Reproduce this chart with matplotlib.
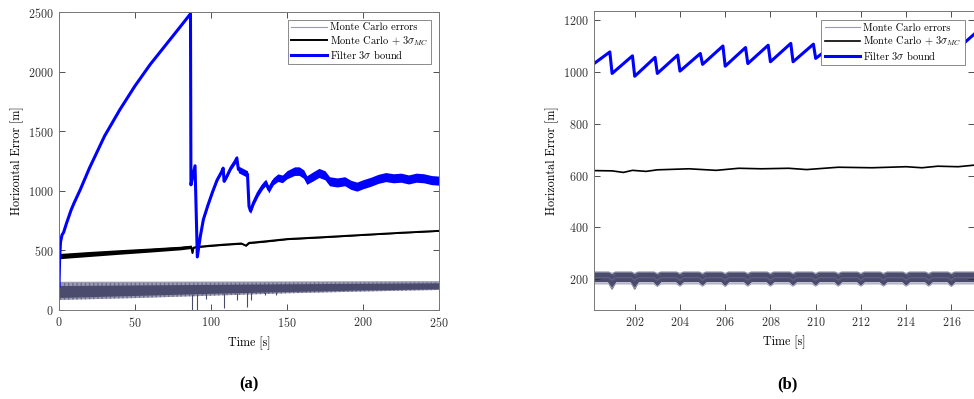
import numpy as np
import matplotlib
matplotlib.use("Agg")
import matplotlib.pyplot as plt

plt.rcParams['font.family'] = 'cmr10'
plt.rcParams['mathtext.fontset'] = 'cm'
plt.rcParams['axes.formatter.use_mathtext'] = True

# ---------------- panel (a) data ----------------
blue_t = [0, 0.4, 1, 2, 3, 5, 8, 10, 14, 20, 30, 40, 50, 60, 70, 80, 86.5, 86.8, 87.5, 89.5,
          91, 93, 95, 98, 101, 104, 107, 108, 108.6, 110, 113, 116, 117, 118, 121, 124, 125, 126,
          128, 131, 134, 136, 138, 141, 144, 147, 150, 155, 158, 161, 163, 167, 171, 175, 178,
          183, 188, 192, 196, 200, 205, 210, 215, 220, 225, 230, 235, 240, 245, 250]
blue_v = [200, 430, 570, 630, 650, 730, 840, 900, 1010, 1190, 1460, 1680, 1880, 2060, 2220, 2380, 2485, 1050, 1090, 1210,
          445, 620, 760, 880, 990, 1090, 1160, 1190, 1080, 1110, 1190, 1250, 1275, 1180, 1160, 1140, 870, 830,
          900, 980, 1040, 1070, 1010, 1080, 1110, 1100, 1135, 1165, 1165, 1140, 1090, 1120, 1150, 1130, 1080,
          1070, 1080, 1050, 1035, 1055, 1075, 1100, 1115, 1105, 1110, 1095, 1110, 1105, 1090, 1085]
blue_hw = [0, 0, 0, 0, 0, 0, 0, 0, 0, 0, 0, 0, 0, 0, 0, 0, 0, 0, 0, 0,
           0, 8, 8, 10, 10, 12, 12, 12, 12, 14, 16, 22, 22, 28, 28, 28, 22, 22,
           22, 25, 25, 28, 28, 30, 32, 32, 34, 36, 36, 36, 36, 38, 38, 38, 38,
           38, 38, 38, 38, 38, 38, 38, 38, 38, 38, 38, 38, 38, 38, 38]

blk_t = [0, 20, 40, 60, 80, 87, 87.8, 88.5, 90, 100, 110, 120, 123, 125, 135, 150, 175, 200, 225, 250]
blk_v = [452, 470, 487, 503, 520, 530, 478, 522, 528, 540, 550, 558, 540, 563, 575, 595, 612, 630, 648, 664]
blk_hw = [22, 21, 19, 17, 15, 14, 4, 4, 5, 6, 6, 6, 5, 6, 6, 5, 5, 4, 4, 4]

mc_t = [0, 50, 100, 150, 200, 250]
mc_out_hi = [232, 233, 234, 235, 236, 237]
mc_out_lo = [84, 100, 120, 140, 155, 168]
mc_core_hi = [205, 210, 215, 220, 224, 228]
mc_core_lo = [105, 122, 140, 155, 168, 178]

spike_t = [87.3, 91, 95, 97, 108.8, 117, 124, 126, 135.5, 143, 147, 157, 160, 172, 185]
spike_lo = [0, 0, 165, 90, 15, 80, 25, 80, 125, 130, 150, 155, 160, 170, 175]

# ---------------- panel (b) data ----------------
sec = [201, 202, 203, 204, 205, 206, 207, 208, 209, 210, 211, 212, 213, 214, 215, 216]
saw_peak = [1077, 1062, 1056, 1065, 1071, 1100, 1094, 1103, 1110, 1107, 1112, 1118, 1115, 1122, 1125, 1128]
saw_trough = [994, 983, 994, 1003, 1029, 1022, 1032, 1039, 1039, 1052, 1050, 1055, 1058, 1062, 1065, 1068]
saw_start = (200.2, 1032)
saw_end = (217, 1145)

blk2_t = [200.2, 201.0, 201.5, 201.9, 202.5, 203.0, 204.4, 205.6, 206.6, 207.6, 208.8, 209.6,
          211.0, 212.5, 214.0, 214.7, 215.4, 216.3, 217.0]
blk2_v = [619, 618, 612, 620, 616, 622, 626, 620, 628, 626, 628, 623, 632, 630, 634, 630, 636, 634, 640]

# MC line levels in (b) and their per-second dips
mc2_top_level, mc2_top_dip = 228, 6
mc2_dark_hi, mc2_dark_hi_dip = 223, 8
mc2_dark_lo = 191
mc2_dark_lo_dip = [28, 28, 14, 12, 12, 14, 12, 12, 12, 12, 12, 12, 12, 12, 12, 14]
mc2_mid_level, mc2_mid_dip = 206, 10
mc2_bot_level = 182
mc2_bot_dip = [18, 18, 10, 9, 9, 10, 9, 9, 9, 9, 9, 9, 9, 9, 9, 10]

C_LIGHT = '#9a9ab2'
C_DARK = '#4b4b6d'
BLUE = '#0000ff'


def style(ax):
    ax.tick_params(direction='in', length=4, width=0.6, top=True, right=True,
                   labelsize=8.7, colors='#333333', pad=4)
    for s in ax.spines.values():
        s.set_color('#777777')
        s.set_linewidth(0.7)


def dipline(level, dips, x0=200.2, x1=217):
    if np.isscalar(dips):
        dips = [dips] * len(sec)
    xs, ys = [x0], [level]
    for k, d in zip(sec, dips):
        xs += [k - 0.15, k, k + 0.15]
        ys += [level, level - d, level]
    xs.append(x1)
    ys.append(level)
    return np.array(xs), np.array(ys)


fig = plt.figure(figsize=(9.74, 3.99), dpi=100)

# ---------------- (a) ----------------
ax1 = fig.add_axes([59 / 974, 89 / 399, 380 / 974, 298 / 399])
ax1.fill_between(mc_t, mc_out_lo, mc_out_hi, color=C_LIGHT, lw=0, hatch='||||',
                 edgecolor='#6e6e8c')
ax1.fill_between(mc_t, mc_core_lo, mc_core_hi, color=C_DARK, lw=0)
spike_top = np.interp(spike_t, mc_t, mc_core_lo)
ax1.vlines(spike_t, spike_lo, spike_top, color=C_DARK, lw=0.8)
ax1.plot(mc_t, mc_out_hi, color=C_LIGHT, lw=0.8, label='Monte Carlo errors')

bt = np.array(blk_t)
bv = np.array(blk_v)
bh = np.array(blk_hw)
ax1.fill_between(bt, bv - bh, bv + bh, color='black', lw=0)
ax1.plot(bt, bv, color='black', lw=1.4, label=r'Monte Carlo + 3$\sigma_{MC}$')

ft = np.array(blue_t)
fv = np.array(blue_v)
fh = np.array(blue_hw)
ax1.fill_between(ft, fv - fh, fv + fh, color=BLUE, lw=0)
ax1.plot(ft, fv, color=BLUE, lw=2.2, label=r'Filter 3$\sigma$ bound')

ax1.set_xlim(0, 250)
ax1.set_ylim(0, 2500)
ax1.set_xticks([0, 50, 100, 150, 200, 250])
ax1.set_yticks([0, 500, 1000, 1500, 2000, 2500])
ax1.set_xlabel('Time [s]', fontsize=8.7, labelpad=5)
ax1.set_ylabel('Horizontal Error [m]', fontsize=8.7, labelpad=3)
style(ax1)
leg1 = ax1.legend(loc='upper right', fontsize=7.5, handlelength=3.4, borderaxespad=0.75,
                  fancybox=False, framealpha=1, edgecolor='#777777', borderpad=0.3,
                  labelspacing=0.15, handletextpad=0.3)
leg1.get_frame().set_linewidth(0.6)

# ---------------- (b) ----------------
ax2 = fig.add_axes([594 / 974, 89 / 399, 380 / 974, 299 / 399])

x_top, y_top = dipline(mc2_top_level, mc2_top_dip)
x_dh, y_dh = dipline(mc2_dark_hi, mc2_dark_hi_dip)
x_dl, y_dl = dipline(mc2_dark_lo, mc2_dark_lo_dip)
x_mid, y_mid = dipline(mc2_mid_level, mc2_mid_dip)
x_bot, y_bot = dipline(mc2_bot_level, mc2_bot_dip)

ax2.plot(x_top, y_top, color=C_LIGHT, lw=0.8, label='Monte Carlo errors')
ax2.fill_between(x_dh, y_dl, y_dh, color=C_DARK, lw=0)
ax2.plot(x_dh, y_dh, color=C_DARK, lw=1.2)
ax2.plot(x_dl, y_dl, color=C_DARK, lw=1.2)
ax2.plot(x_mid, y_mid, color='#5e5e80', lw=1.0)
ax2.plot(x_bot, y_bot, color=C_LIGHT, lw=0.8)

ax2.plot(blk2_t, blk2_v, color='black', lw=1.2, label=r'Monte Carlo + 3$\sigma_{MC}$')

sx, sy = [saw_start[0]], [saw_start[1]]
for k, p, tr in zip(sec, saw_peak, saw_trough):
    sx += [k - 0.1, k]
    sy += [p, tr]
sx.append(saw_end[0])
sy.append(saw_end[1])
ax2.plot(sx, sy, color=BLUE, lw=2.2, label=r'Filter 3$\sigma$ bound')

ax2.set_xlim(200.2, 217)
ax2.set_ylim(81, 1235)
ax2.set_xticks(list(range(202, 217, 2)))
ax2.set_yticks([200, 400, 600, 800, 1000, 1200])
ax2.set_xlabel('Time [s]', fontsize=8.7, labelpad=5)
ax2.set_ylabel('Horizontal Error [m]', fontsize=8.7, labelpad=3)
style(ax2)
leg2 = ax2.legend(loc='upper right', fontsize=7.5, handlelength=3.4, borderaxespad=0.9,
                  fancybox=False, framealpha=1, edgecolor='#777777', borderpad=0.3,
                  labelspacing=0.15, handletextpad=0.3)
leg2.get_frame().set_linewidth(0.6)

# captions
fig.text(249 / 974, 1 - 384 / 399, '(a)', ha='center', va='center', fontsize=12,
         fontweight='bold', family='Liberation Serif')
fig.text(787 / 974, 1 - 384 / 399, '(b)', ha='center', va='center', fontsize=12,
         fontweight='bold', family='Liberation Serif')

fig.savefig('out.png', dpi=100)
